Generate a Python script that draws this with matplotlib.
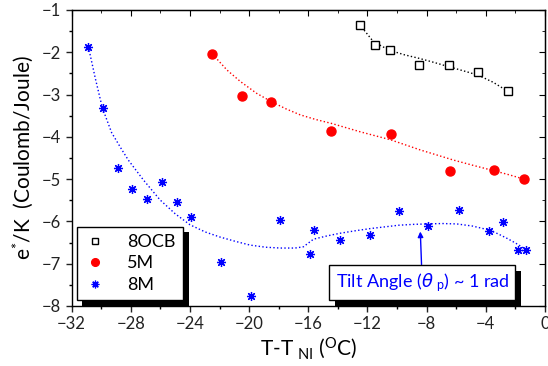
"""e*/K vs reduced temperature for 8OCB, 5M and 8M."""

import matplotlib
matplotlib.use("Agg")
import matplotlib.pyplot as plt
import matplotlib.patheffects as pe

plt.rcParams["font.family"] = ["Lato", "DejaVu Sans"]
plt.rcParams["mathtext.default"] = "regular"

# measured points
x_8ocb = [-12.5, -11.5, -10.5, -8.5, -6.5, -4.5, -2.5]
y_8ocb = [-1.35, -1.83, -1.95, -2.30, -2.30, -2.47, -2.92]

x_5m = [-22.5, -20.5, -18.5, -14.5, -10.4, -6.45, -3.45, -1.4]
y_5m = [-2.04, -3.03, -3.17, -3.86, -3.94, -4.81, -4.79, -5.00]

x_8m = [-30.9, -29.9, -28.9, -27.9, -26.9, -25.9, -24.9, -23.9, -21.9, -19.9,
        -17.9, -15.9, -15.6, -13.85, -11.85, -9.9, -7.9, -5.8, -3.8, -2.85,
        -1.8, -1.3]
y_8m = [-1.87, -3.31, -4.74, -5.24, -5.48, -5.07, -5.55, -5.89, -6.96, -7.76,
        -5.96, -6.78, -6.21, -6.43, -6.33, -5.76, -6.11, -5.74, -6.23, -6.02,
        -6.68, -6.67]

# dotted guide curves
cx_8ocb = [-12.54, -11.6, -10.53, -9.5, -8.55, -7.5, -6.52, -5.5, -4.53, -3.5, -2.53]
cy_8ocb = [-1.34, -1.75, -1.95, -2.06, -2.14, -2.24, -2.34, -2.44, -2.54, -2.71, -2.92]

cx_5m = [-22.49, -21.5, -20.6, -19.5, -18.49, -17.5, -16.55, -15.5, -14.46,
         -12.5, -10.44, -8.43, -6.18, -4.8, -3.47, -2.4, -1.42]
cy_5m = [-2.04, -2.42, -2.69, -2.97, -3.17, -3.34, -3.48, -3.59, -3.68,
         -3.88, -4.07, -4.31, -4.55, -4.68, -4.80, -4.90, -5.00]

cx_8m = [-30.87, -30.4, -29.93, -29.3, -28.6, -28.17, -27.15, -26.03, -25.0,
         -24.0, -22.97, -21.97, -20.95, -19.94, -18.9, -17.9, -16.9, -16.33,
         -15.65, -14.7, -13.85, -12.8, -11.82, -10.85, -9.88, -8.9, -7.98,
         -6.95, -5.95, -4.9, -3.81, -3.2, -2.57, -2.0, -1.44]
cy_8m = [-1.87, -2.62, -3.31, -3.90, -4.31, -4.55, -5.02, -5.49, -5.82,
         -6.08, -6.25, -6.37, -6.47, -6.56, -6.61, -6.63, -6.63, -6.60,
         -6.42, -6.34, -6.28, -6.22, -6.17, -6.13, -6.09, -6.07, -6.06,
         -6.05, -6.06, -6.11, -6.20, -6.29, -6.40, -6.51, -6.63]

fig = plt.figure(figsize=(5.48, 3.66), dpi=100)
ax = fig.add_axes([0.1308, 0.164, 0.8637, 0.8087])

ax.plot(cx_8ocb, cy_8ocb, ls=":", color="black", lw=1.0)
ax.plot(cx_5m, cy_5m, ls=":", color="red", lw=1.0)
ax.plot(cx_8m, cy_8m, ls=":", color="blue", lw=1.0)

ax.plot(x_8ocb, y_8ocb, ls="none", marker="s", ms=5.5, mfc="white",
        mec="black", mew=1.0, label="8OCB")
ax.plot(x_5m, y_5m, ls="none", marker="o", ms=6.5, color="red", label="5M")
ax.plot(x_8m, y_8m, ls="none", marker=(8, 2, 0), ms=6.5, color="blue",
        mew=0.9, label="8M")

ax.set_xlim(-32, 0)
ax.set_ylim(-8, -1)
ax.set_xticks(range(-32, 1, 4))
ax.set_xticks(range(-30, 0, 4), minor=True)
ax.set_yticks(range(-8, 0))
ax.set_yticks([v + 0.5 for v in range(-8, -1)], minor=True)
ax.tick_params(which="major", direction="out", length=4, width=1, labelsize=12,
               colors="#222222")
ax.tick_params(which="minor", direction="out", length=2.5, width=1)
for s in ax.spines.values():
    s.set_linewidth(1.0)

top = ax.secondary_xaxis("top")
top.set_xticks(range(-32, 1, 4))
top.set_xticks(range(-30, 0, 4), minor=True)
top.tick_params(which="both", direction="in", labeltop=False)
top.tick_params(which="major", length=4)
top.tick_params(which="minor", length=2.5)
right = ax.secondary_yaxis("right")
right.set_yticks(range(-8, 0))
right.set_yticks([v + 0.5 for v in range(-8, -1)], minor=True)
right.tick_params(which="both", direction="in", labelright=False)
right.tick_params(which="major", length=4)
right.tick_params(which="minor", length=2.5)

ax.set_xlabel(r"T-T$_{\ NI}$ ($^{O}$C)", fontsize=15, labelpad=2)
ax.set_ylabel(r"e$^{*}$/K  (Coulomb/Joule)", fontsize=15, labelpad=4)

leg = ax.legend(loc="lower left", bbox_to_anchor=(0.011, 0.02),
                borderaxespad=0, fontsize=13, fancybox=False,
                edgecolor="black", framealpha=1, handlelength=1.2,
                handletextpad=1.2, borderpad=0.4, labelspacing=0.3,
                markerscale=0.85)
leg.get_frame().set_linewidth(1.0)
leg.get_frame().set_path_effects([
    pe.SimplePatchShadow(offset=(4, -4), shadow_rgbFace="black", alpha=1),
    pe.Normal()])

txt = ax.annotate(r"Tilt Angle ($\mathit{\theta}_{\ p}$) ~ 1 rad",
                  xy=(-8.43, -6.24),
                  xytext=(-8.3, -7.45), ha="center", va="center",
                  fontsize=13, color="blue",
                  bbox=dict(boxstyle="square,pad=0.35", fc="white",
                            ec="black", lw=1.0),
                  arrowprops=dict(arrowstyle="-|>", color="blue", lw=1.0,
                                  mutation_scale=8, shrinkA=0, shrinkB=0))
txt.get_bbox_patch().set_path_effects([
    pe.SimplePatchShadow(offset=(4, -4), shadow_rgbFace="black", alpha=1),
    pe.Normal()])

fig.savefig("out.png", dpi=100)
